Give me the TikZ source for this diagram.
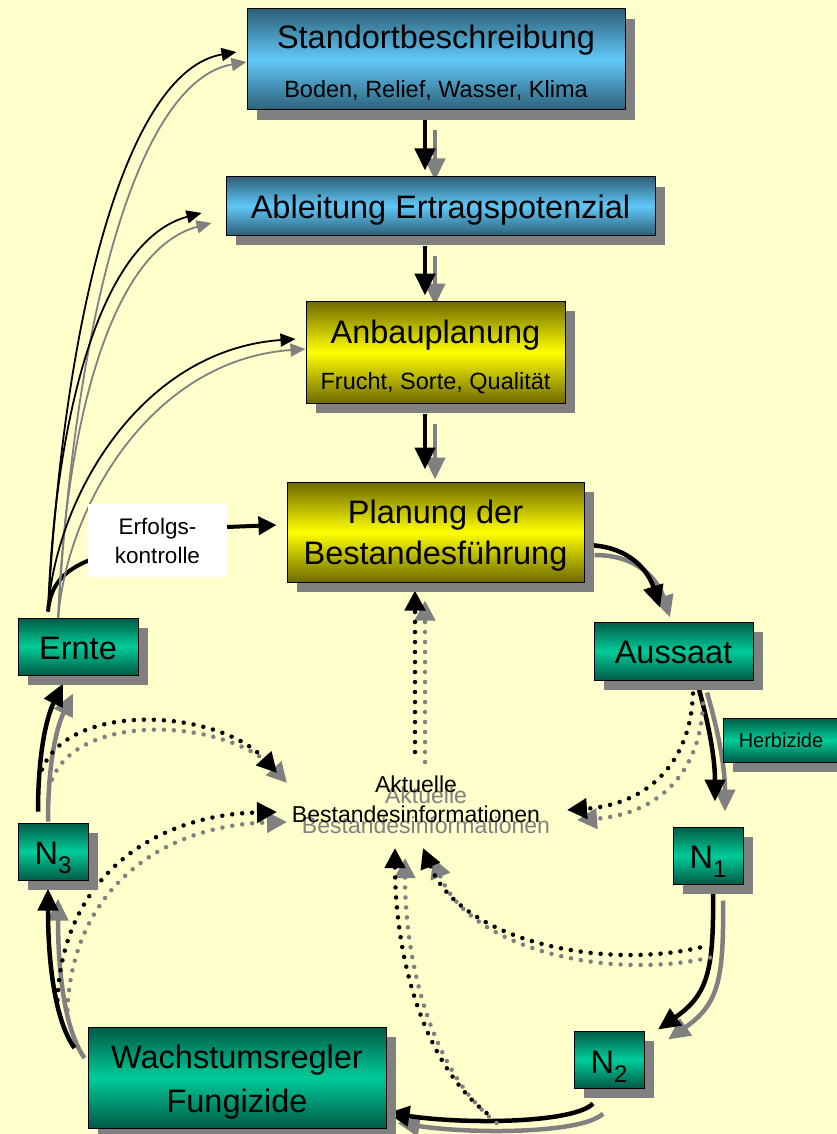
\documentclass[tikz,border=0pt]{standalone}
\usepackage{fontspec}
\setmainfont{Liberation Sans}
\usetikzlibrary{arrows.meta,calc,shadows}
\definecolor{bgc}{HTML}{FFFFCC}
\definecolor{shd}{HTML}{808080}
\definecolor{blueD}{HTML}{2E6078}
\definecolor{blueL}{HTML}{60C8F8}
\definecolor{yelD}{HTML}{6E6900}
\definecolor{yelL}{HTML}{FFFF00}
\definecolor{grnD}{HTML}{005A46}
\definecolor{grnL}{HTML}{00CC99}
\pgfdeclarelayer{back}
\pgfdeclarelayer{links}
\pgfsetlayers{back,links,main}
\newcommand\fsz[2]{\fontsize{#1}{#2}\selectfont}
\newcommand\duo[2]{%
  \begin{scope}[transform canvas={xshift=10pt,yshift=-10pt}]\draw[#1,shd] #2;\end{scope}
  \draw[#1,black] #2;}
\newcommand\sub[1]{\raisebox{-9pt}{\fsz{24}{24}#1}}
\tikzset{
  box/.style={draw=black, line width=1pt, inner sep=0pt,
    drop shadow={shadow xshift=10pt, shadow yshift=-10pt, fill=shd, opacity=1}},
  bluebox/.style={box, top color=blueD, bottom color=blueD, middle color=blueL},
  yelbox/.style={box, top color=yelD, bottom color=yelD, middle color=yelL},
  grnbox/.style={box, top color=grnD, bottom color=grnD, middle color=grnL},
  lbl/.style={anchor=base, inner sep=0pt, font=\fsz{32.5}{38}},
  sublbl/.style={anchor=base, inner sep=0pt, font=\fsz{23.5}{28}},
  smlbl/.style={anchor=base, inner sep=0pt, font=\fsz{22.5}{28}},
  ctlbl/.style={anchor=base, inner sep=0pt, font=\fsz{23}{28}},
  thkarr/.style={line width=4.5pt, -{Triangle[length=22pt,width=20pt]}},
  thkline/.style={line width=4pt},
  thnarr/.style={line width=1.8pt, -{Triangle[length=15pt,width=13pt]}},
  dotarr/.style={line width=4.5pt, line cap=round, dash pattern=on 0pt off 10pt,
    -{Triangle[length=20pt,width=20pt]}},
}
\begin{document}
\begin{tikzpicture}[x=1pt,y=-1pt]
\useasboundingbox (0,0) rectangle (837,1134);
\begin{pgfonlayer}{back}
\fill[bgc] (0,0) rectangle (837,1134);
\end{pgfonlayer}

% boxes
\node[bluebox, minimum width=378pt, minimum height=101pt] (std) at (436,59.5) {};
\node[lbl] (stdT) at (436,49) {Standortbeschreibung};
\node[sublbl] (stdS) at (436,98) {Boden, Relief, Wasser, Klima};

\node[bluebox, minimum width=429pt, minimum height=58pt] (abl) at (440.5,206) {};
\node[lbl] (ablT) at (440.5,218) {Ableitung Ertragspotenzial};

\node[yelbox, minimum width=259pt, minimum height=102pt] (anb) at (435.5,352) {};
\node[lbl] (anbT) at (435.5,343) {Anbauplanung};
\node[sublbl] (anbS) at (435.5,389) {Frucht, Sorte, Qualität};

\node[yelbox, minimum width=297pt, minimum height=100pt] (plan) at (435.5,532) {};
\node[lbl] (planT1) at (435.5,523) {Planung der};
\node[lbl] (planT2) at (435.5,564) {Bestandesführung};

\node[fill=white, inner sep=0pt, minimum width=139pt, minimum height=73pt] (erf) at (157.5,540.5) {};
\node[smlbl] (erfT1) at (157.5,534) {Erfolgs-};
\node[smlbl] (erfT2) at (157.5,563) {kontrolle};

\node[grnbox, minimum width=120pt, minimum height=57pt] (ernte) at (78,646.5) {};
\node[lbl] (ernteT) at (78,659) {Ernte};

\node[grnbox, minimum width=159pt, minimum height=58pt] (aus) at (673.5,651) {};
\node[lbl] (ausT) at (673.5,663) {Aussaat};

\node[grnbox, minimum width=120pt, minimum height=44pt] (herb) at (783,740) {};
\node[anchor=base, inner sep=0pt, font=\fsz{20}{24}] (herbT) at (781,747) {Herbizide};

\node[grnbox, minimum width=70pt, minimum height=57pt] (n1) at (708,855.5) {};
\node[lbl] (n1T) at (708,868) {N\sub{1}};

\node[grnbox, minimum width=70pt, minimum height=57pt] (n2) at (609,1059.5) {};
\node[lbl] (n2T) at (609,1073) {N\sub{2}};

\node[grnbox, minimum width=70pt, minimum height=57pt] (n3) at (53,851.5) {};
\node[lbl] (n3T) at (53,864) {N\sub{3}};

\node[grnbox, minimum width=298pt, minimum height=101pt] (wach) at (237,1077.5) {};
\node[lbl] (wachT1) at (237,1068) {Wachstumsregler};
\node[lbl] (wachT2) at (237,1112) {Fungizide};

% central text with its grey copy
\coordinate (akt) at (416,800);
\node[ctlbl, text=shd] (akt1s) at (426,803) {Aktuelle};
\node[ctlbl, text=shd] (akt2s) at (426,833) {Bestandesinformationen};
\node[ctlbl] (akt1) at (416,792) {Aktuelle};
\node[ctlbl] (akt2) at (416,822) {Bestandesinformationen};

\begin{pgfonlayer}{links}
% main chain
\duo{thkarr}{($(std.south)+(-11,10)$) -- ($(abl.north)+(-15.5,-6)$)}
\duo{thkarr}{($(abl.south)+(-15.5,10)$) -- ($(anb.north)+(-10.5,-5)$)}
\duo{thkarr}{($(anb.south)+(-10.5,10)$) -- ($(plan.north)+(-10.5,-12)$)}
\duo{thkarr}{($(plan.east)+(0,13)$) .. controls ($(plan.east)+(45,13)$) and ($(aus.north)+(-25,-50)$) .. ($(aus.north)+(-13.5,-14)$)}
\duo{thkarr}{($(aus.south)+(23.5,2)$) .. controls ($(aus.south)+(34.5,40)$) and ($(n1.north)+(7,-70)$) .. ($(n1.north)+(7,-25)$)}
\duo{thkarr}{($(n1.south)+(5,6)$) .. controls ($(n1.south)+(6,86)$) and ($(n2.north)+(99,-36)$) .. ($(n2.north)+(49,-1)$)}
\duo{thkarr}{($(n2.south)+(-16,15)$) .. controls ($(n2.south)+(-34,34)$) and ($(wach.east)+(84,47.5)$) .. ($(wach.east)+(1,35.5)$)}
\duo{thkarr}{($(wach.west)+(-13,-29.5)$) .. controls ($(wach.west)+(-33,-57.5)$) and ($(n3.south)+(-5,80)$) .. ($(n3.south)+(-5,8)$)}
\duo{thkarr}{($(n3.north)+(-15,-11)$) .. controls ($(n3.north)+(-15,-63)$) and ($(ernte.south)+(-33,45)$) .. ($(ernte.south)+(-15,8)$)}

% Ernte -> Erfolgskontrolle -> Planung
\draw[thkline] ($(ernte.north)+(-30,-6)$) .. controls ($(ernte.north)+(-28,-33)$) and ($(erf.west)+(-23,29.5)$) .. ($(erf.west)+(2,19.5)$);
\draw[line width=4pt, -{Triangle[length=18pt,width=18pt]}] ($(erf.east)+(0,-13.5)$) -- ($(plan.west)+(-10,-7)$);

% thin feedback curves
\duo{thnarr}{($(ernte.north)+(-30,-6)$) .. controls ($(ernte.north)+(-13,-318)$) and ($(std.west)+(-117,10.5)$) .. ($(std.west)+(-10,-7.5)$)}
\duo{thnarr}{($(ernte.north)+(-30,-6)$) .. controls ($(ernte.north)+(-23,-198)$) and ($(abl.west)+(-126,34)$) .. ($(abl.west)+(-24,7)$)}
\duo{thnarr}{($(ernte.north)+(-30,-6)$) .. controls ($(ernte.north)+(-23,-118)$) and ($(anb.west)+(-166,-2)$) .. ($(anb.west)+(-10,-13)$)}

% dotted information arrows
\duo{dotarr}{($(akt)+(-1,-48)$) -- ($(plan.south)+(-20.5,8)$)}
\duo{dotarr}{($(n3.north)+(-11,-53)$) .. controls ($(n3.north)+(17,-123)$) and ($(akt)+(-196,-90)$) .. ($(akt)+(-139,-27)$)}
\duo{dotarr}{($(wach.west)+(-30,-77.5)$) .. controls ($(n3.south)+(9,0)$) and ($(akt)+(-266,15)$) .. ($(akt)+(-139,12)$)}
\duo{dotarr}{($(n2.west)+(-87,53.5)$) .. controls ($(akt)+(4,260)$) and ($(akt)+(-21,150)$) .. ($(akt)+(-21,48)$)}
\duo{dotarr}{($(n1.south)+(-8,63)$) .. controls ($(n1.south)+(-108,86)$) and ($(akt)+(44,140)$) .. ($(akt)+(7,48)$)}
\duo{dotarr}{($(aus.south)+(19.5,13)$) .. controls ($(aus.south)+(16.5,90)$) and ($(akt)+(224,5)$) .. ($(akt)+(151,10)$)}
\end{pgfonlayer}
\end{tikzpicture}
\end{document}
